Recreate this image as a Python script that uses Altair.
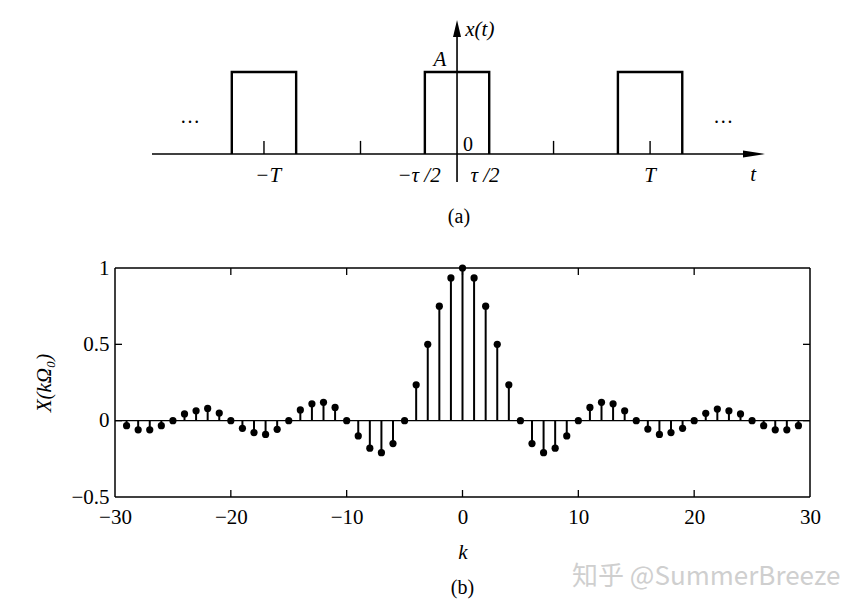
import altair as alt
import pandas as pd

SERIF = "Liberation Serif"

# ---------------- panel (b): spectrum samples ----------------
k_left = list(range(-29, 0))
X_left = [-0.033, -0.06, -0.06, -0.033, 0.0, 0.044, 0.065, 0.08, 0.05, 0.0,
          -0.05, -0.078, -0.09, -0.057, 0.0, 0.07, 0.11, 0.12, 0.087, 0.0,
          -0.10, -0.18, -0.21, -0.15, 0.0, 0.235, 0.50, 0.75, 0.935]
k_mid = [0]
X_mid = [1.0]
k_right = list(range(1, 30))
X_right = [0.935, 0.75, 0.50, 0.235, 0.0, -0.15, -0.21, -0.18, -0.10, 0.0,
           0.087, 0.12, 0.11, 0.065, 0.0, -0.055, -0.09, -0.078, -0.05, 0.0,
           0.048, 0.076, 0.065, 0.044, 0.0, -0.033, -0.06, -0.06, -0.033]

k_ticks = [-30, -20, -10, 0, 10, 20, 30]
inner_k_ticks = [-20, -10, 0, 10, 20]
y_ticks = [-0.5, 0, 0.5, 1]
inner_y_ticks = [0, 0.5]

# ---------------- panel (a): periodic pulse train ----------------
pulse_left = [-7, -1, 5]
pulse_right = [-5, 1, 7]
pulse_A = 1.0
t_marks = [-6, -3, 3, 6]

lab_italic = ["−T", "−τ /2", "τ /2", "T", "t", "A", "x(t)"]
lab_italic_t = [-5.87, -1.18, 0.87, 6.0, 9.2, -0.53, 0.71]
lab_italic_y = [-0.268, -0.268, -0.268, -0.268, -0.26, 1.146, 1.512]
lab_plain = ["0", "…", "…", "(a)"]
lab_plain_t = [0.34, -8.3, 8.27, 0.06]
lab_plain_y = [0.11, 0.45, 0.45, -0.768]

W, H = 695, 485

# ---------- scales ----------
xa = alt.Scale(domain=[-10.63, 10.97], nice=False, zero=False)
ya = alt.Scale(domain=[-4.183, 1.732], nice=False, zero=False)
xb = alt.Scale(domain=[-30, 30], nice=False, zero=False)
yb = alt.Scale(domain=[-0.5, 1], range=[H, 256], nice=False, zero=False)

# ---------- panel (a) layers ----------
rows = []
for i, (l, r) in enumerate(zip(pulse_left, pulse_right)):
    for j, (tt, yy) in enumerate([(l, 0), (l, pulse_A), (r, pulse_A), (r, 0)]):
        rows.append({"pid": i, "ord": j, "t": tt, "y": yy})
pulse_df = pd.DataFrame(rows)

pulses = alt.Chart(pulse_df).mark_line(color="black", strokeWidth=2.4, strokeJoin="miter").encode(
    x=alt.X("t:Q", scale=xa, axis=None),
    y=alt.Y("y:Q", scale=ya, axis=None),
    detail="pid:N",
    order="ord:Q",
)

base = alt.Chart(pd.DataFrame({"d": [0]}))

t_axis = base.mark_rule(color="black", strokeWidth=1.6).encode(
    x=alt.XDatum(-9.48, type="quantitative", scale=xa, axis=None),
    x2=alt.X2Datum(9.0),
    y=alt.YDatum(0, type="quantitative", scale=ya, axis=None),
)
v_axis = base.mark_rule(color="black", strokeWidth=1.6).encode(
    x=alt.XDatum(0, type="quantitative", scale=xa, axis=None),
    y=alt.YDatum(-0.341, type="quantitative", scale=ya, axis=None),
    y2=alt.Y2Datum(1.5),
)
arrow_r = base.mark_point(shape="M-1,-0.32L1,0L-1,0.32Z", filled=True, size=484,
                          color="black", opacity=1).encode(
    x=alt.XDatum(9.23, type="quantitative", scale=xa, axis=None),
    y=alt.YDatum(0, type="quantitative", scale=ya, axis=None),
)
arrow_u = base.mark_point(shape="M0,-1L0.47,1L-0.47,1Z", filled=True, size=289,
                          color="black", opacity=1).encode(
    x=alt.XDatum(0, type="quantitative", scale=xa, axis=None),
    y=alt.YDatum(1.53, type="quantitative", scale=ya, axis=None),
)
tick_df = pd.DataFrame({"t": t_marks})
t_ticks = alt.Chart(tick_df).mark_rule(color="black", strokeWidth=1.4).encode(
    x=alt.X("t:Q", scale=xa, axis=None),
    y=alt.YDatum(0, type="quantitative", scale=ya, axis=None),
    y2=alt.Y2Datum(0.16),
)
ital_df = pd.DataFrame({"label": lab_italic, "t": lab_italic_t, "y": lab_italic_y})
ital = alt.Chart(ital_df).mark_text(font=SERIF, fontSize=21, fontStyle="italic",
                                    baseline="middle", align="center", color="black").encode(
    x=alt.X("t:Q", scale=xa, axis=None),
    y=alt.Y("y:Q", scale=ya, axis=None),
    text="label:N",
)
plain_df = pd.DataFrame({"label": lab_plain, "t": lab_plain_t, "y": lab_plain_y})
plain = alt.Chart(plain_df).mark_text(font=SERIF, fontSize=20,
                                      baseline="middle", align="center", color="black").encode(
    x=alt.X("t:Q", scale=xa, axis=None),
    y=alt.Y("y:Q", scale=ya, axis=None),
    text="label:N",
)

layers_a = [pulses, t_axis, v_axis, arrow_r, arrow_u, t_ticks, ital, plain]

# ---------- panel (b) layers ----------
spec_df = pd.DataFrame({"k": k_left + k_mid + k_right, "X": X_left + X_mid + X_right})

x_axis_b = alt.Axis(values=k_ticks, format="d", labelFont=SERIF, labelFontSize=21,
                    labelPadding=9, labelFlush=False, ticks=False, domain=False, grid=False,
                    labelColor="black", title="k", titleFont=SERIF, titleFontSize=21,
                    titleFontStyle="italic", titleFontWeight="normal", titlePadding=14,
                    titleColor="black")
y_axis_b = alt.Axis(values=y_ticks, format="~g", labelFont=SERIF, labelFontSize=21,
                    labelPadding=6, ticks=False, domain=False, grid=False, labelColor="black",
                    title="X(kΩ₀)", titleFont=SERIF, titleFontSize=21, titleFontStyle="italic",
                    titleFontWeight="normal", titlePadding=16, titleColor="black")

stems = alt.Chart(spec_df).mark_rule(color="black", strokeWidth=2).encode(
    x=alt.X("k:Q", scale=xb, axis=x_axis_b),
    y=alt.Y("X:Q", scale=yb, axis=y_axis_b),
    y2=alt.Y2Datum(0),
)
dots = alt.Chart(spec_df).mark_circle(color="black", size=52, opacity=1).encode(
    x=alt.X("k:Q", scale=xb, axis=None),
    y=alt.Y("X:Q", scale=yb, axis=None),
)


def hrule(yv, width=1.5):
    return base.mark_rule(color="black", strokeWidth=width).encode(
        x=alt.XDatum(-30, type="quantitative", scale=xb, axis=None),
        x2=alt.X2Datum(30),
        y=alt.YDatum(yv, type="quantitative", scale=yb, axis=None),
    )


def vrule(xv):
    return base.mark_rule(color="black", strokeWidth=1.5).encode(
        x=alt.XDatum(xv, type="quantitative", scale=xb, axis=None),
        y=alt.YDatum(-0.5, type="quantitative", scale=yb, axis=None),
        y2=alt.Y2Datum(1),
    )


frame = [hrule(-0.5), hrule(1), vrule(-30), vrule(30), hrule(0, 1.4)]

kt_df = pd.DataFrame({"k": inner_k_ticks})
yt_df = pd.DataFrame({"v": inner_y_ticks})
tick_bottom = alt.Chart(kt_df).mark_rule(color="black", strokeWidth=1.3, y2Offset=-7).encode(
    x=alt.X("k:Q", scale=xb, axis=None),
    y=alt.YDatum(-0.5, type="quantitative", scale=yb, axis=None),
    y2=alt.Y2Datum(-0.5),
)
tick_top = alt.Chart(kt_df).mark_rule(color="black", strokeWidth=1.3, y2Offset=7).encode(
    x=alt.X("k:Q", scale=xb, axis=None),
    y=alt.YDatum(1, type="quantitative", scale=yb, axis=None),
    y2=alt.Y2Datum(1),
)
tick_left = alt.Chart(yt_df).mark_rule(color="black", strokeWidth=1.3, x2Offset=7).encode(
    x=alt.XDatum(-30, type="quantitative", scale=xb, axis=None),
    x2=alt.X2Datum(-30),
    y=alt.Y("v:Q", scale=yb, axis=None),
)
tick_right = alt.Chart(yt_df).mark_rule(color="black", strokeWidth=1.3, x2Offset=-7).encode(
    x=alt.XDatum(30, type="quantitative", scale=xb, axis=None),
    x2=alt.X2Datum(30),
    y=alt.Y("v:Q", scale=yb, axis=None),
)

label_b = base.mark_text(font=SERIF, fontSize=20, color="black", baseline="middle",
                         align="center", dy=91).encode(
    x=alt.XDatum(0, type="quantitative", scale=xb, axis=None),
    y=alt.YDatum(-0.5, type="quantitative", scale=yb, axis=None),
    text=alt.value("(b)"),
)
watermark = base.mark_text(font="Noto Sans CJK SC", fontSize=26, color="#cfcfcf",
                           baseline="middle", align="left", dy=80).encode(
    x=alt.XDatum(9.45, type="quantitative", scale=xb, axis=None),
    y=alt.YDatum(-0.5, type="quantitative", scale=yb, axis=None),
    text=alt.value("知乎 @SummerBreeze"),
)

layers_b = [stems, *frame, tick_bottom, tick_top, tick_left, tick_right,
            dots, label_b, watermark]

chart = alt.layer(*layers_a, *layers_b).resolve_scale(
    x="independent", y="independent"
).properties(
    width=W, height=H,
    padding={"left": 25, "top": 4, "right": 5, "bottom": 5},
    background="white",
).configure_view(strokeWidth=0)

chart.save("out.html", embed_options={"renderer": "svg", "actions": False})
